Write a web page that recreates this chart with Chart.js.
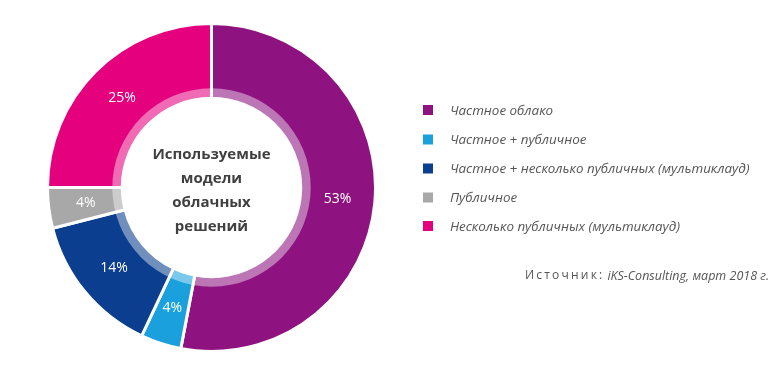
<!DOCTYPE html>
<html>
<head>
<meta charset="utf-8">
<script src="https://cdn.jsdelivr.net/npm/chart.js@4.4.0/dist/chart.umd.min.js"></script>
<style>
html,body{margin:0;padding:0;background:#fff;}
#wrap{position:relative;width:775px;height:380px;}
</style>
</head>
<body>
<div id="wrap"><canvas id="c" width="775" height="380"></canvas></div>
<script>
const categories = ["Частное облако", "Частное + публичное", "Частное + несколько публичных (мультиклауд)", "Публичное", "Несколько публичных (мультиклауд)"];
const shares = [53, 4, 14, 4, 25];
const colors = ["#8E1380", "#1AA0DC", "#0B3E8E", "#A8A8A8", "#E5007D"];
const centerTitle = ["Используемые", "модели", "облачных", "решений"];
const sourceLabel = "Источник:";
const sourceText = "iKS-Consulting, март 2018 г.";

const overlay = {
  id: 'overlay',
  afterDatasetsDraw(chart) {
    const ctx = chart.ctx;
    const meta = chart.getDatasetMeta(0);
    const a0 = meta.data[0];
    const cx = a0.x, cy = a0.y, ri = a0.innerRadius;
    // light inner band
    ctx.save();
    ctx.beginPath();
    ctx.arc(cx, cy, ri + 10, 0, Math.PI * 2);
    ctx.arc(cx, cy, ri, 0, Math.PI * 2, true);
    ctx.fillStyle = 'rgba(255,255,255,0.42)';
    ctx.fill();
    ctx.restore();
  },
  afterDraw(chart) {
    const ctx = chart.ctx;
    const meta = chart.getDatasetMeta(0);
    ctx.save();
    ctx.fillStyle = '#fff';
    ctx.font = '14px "Open Sans", sans-serif';
    ctx.textAlign = 'center';
    ctx.textBaseline = 'middle';
    meta.data.forEach((arc, i) => {
      const p = arc.getCenterPoint();
      ctx.fillText(shares[i] + '%', p.x, p.y);
    });
    const cx = meta.data[0].x, cy = meta.data[0].y;
    ctx.fillStyle = '#404040';
    ctx.font = 'bold 15px "Open Sans", sans-serif';
    centerTitle.forEach((t, i) => {
      ctx.fillText(t, cx, cy - 32.5 + i * 24);
    });
    ctx.textAlign = 'left';
    ctx.font = 'italic 13.4px "Open Sans", sans-serif';
    const ys = [110, 139.5, 168.5, 197.5, 226];
    categories.forEach((c, i) => {
      ctx.fillStyle = colors[i];
      ctx.fillRect(423, ys[i] - 5, 10, 10);
      ctx.fillStyle = '#555555';
      ctx.fillText(c, 450, ys[i] + 1);
    });
    ctx.fillStyle = '#555555';
    ctx.font = '12px "Open Sans", sans-serif';
    let x = 525;
    for (const ch of sourceLabel) {
      ctx.fillText(ch, x, 276);
      x += ctx.measureText(ch).width + 2.2;
    }
    ctx.font = 'italic 12.5px "Open Sans", sans-serif';
    ctx.fillText(sourceText, x + 3, 276);
    ctx.restore();
  }
};

new Chart(document.getElementById('c'), {
  type: 'doughnut',
  data: {
    labels: categories,
    datasets: [
      { data: shares, backgroundColor: colors, borderColor: '#fff', borderWidth: 3 }
    ]
  },
  options: {
    responsive: false,
    animation: false,
    cutout: '54.4%',
    layout: { padding: { left: 0, right: 352, top: 22, bottom: 27 } },
    plugins: { legend: { display: false }, tooltip: { enabled: false } }
  },
  plugins: [overlay]
});
</script>
</body>
</html>
